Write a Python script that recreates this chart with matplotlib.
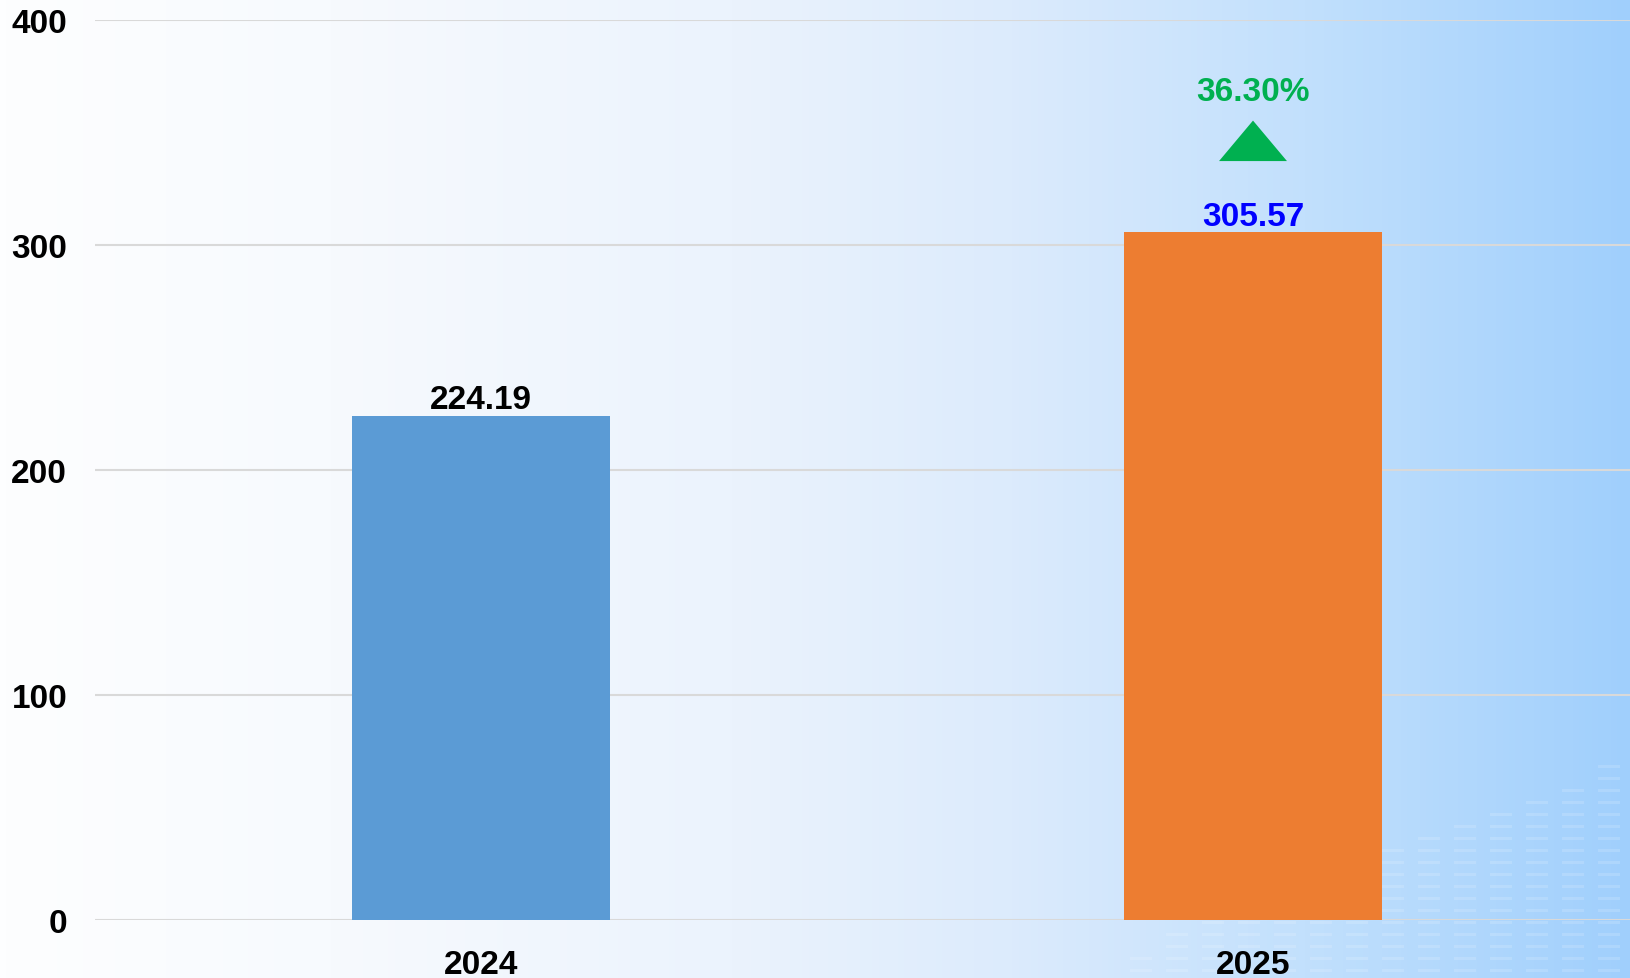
import numpy as np
import matplotlib
matplotlib.use("Agg")
import matplotlib.pyplot as plt
from matplotlib.colors import LinearSegmentedColormap
from matplotlib.patches import Rectangle

plt.rcParams['font.family'] = ['Liberation Sans', 'DejaVu Sans']
plt.rcParams['font.weight'] = 'bold'

categories = ["2024", "2025"]
values = [224.19, 305.57]
bar_colors = ["#5B9BD5", "#ED7D31"]
label_colors = ["#000000", "#0000FF"]
growth_label = "36.30%"
growth_color = "#00B050"
yticks = [0, 100, 200, 300, 400]

W, H = 1630, 979
fig = plt.figure(figsize=(W / 100, H / 100), dpi=100)

# background gradient
bg = fig.add_axes([0, 0, 1, 1], zorder=0)
bg.set_axis_off()
cmap = LinearSegmentedColormap.from_list(
    "bg",
    [(0.0, "#FDFEFF"), (0.2, "#F7FAFE"), (0.45, "#EBF3FD"),
     (0.62, "#DCEBFC"), (0.8, "#C2E0FD"), (1.0, "#A0CFFC")])
grad = np.linspace(0, 1, 512).reshape(1, -1)
bg.imshow(grad, aspect="auto", cmap=cmap, extent=[0, W, 0, H])
bg.set_xlim(0, W)
bg.set_ylim(0, H)

# faint decorative equalizer pattern (bottom right)
for i, cx in enumerate(range(1130, 1630, 36)):
    top = 30 + i * 14
    for yy in range(6, top, 12):
        bg.add_patch(Rectangle((cx, yy), 22, 3, color="white", alpha=0.15,
                               linewidth=0))

left = 95 / W
bottom = (H - 921) / H
height = 900 / H
width = 1544 / W
ax = fig.add_axes([left, bottom, width, height], zorder=1)
ax.patch.set_alpha(0)

x = np.arange(len(categories))
ax.bar(x, values, width=0.333, color=bar_colors, zorder=3)

ax.set_xlim(-0.5, 1.5)
ax.set_ylim(0, 400)
ax.set_yticks(yticks)
ax.set_xticks(x)
ax.set_xticklabels(categories)
ax.grid(axis="y", color="#D9D9D9", linewidth=1.5, zorder=0)
ax.set_axisbelow(True)
for s in ax.spines.values():
    s.set_visible(False)
ax.tick_params(axis="both", length=0, labelsize=24)
ax.tick_params(axis="y", pad=20)
ax.tick_params(axis="x", pad=21)
for lab in ax.get_xticklabels() + ax.get_yticklabels():
    lab.set_fontweight("bold")

for xi, v, c in zip(x, values, label_colors):
    ax.annotate(f"{v:.2f}", (xi, v), xytext=(0, 5.5), textcoords="offset points",
                ha="center", va="baseline", fontsize=24, fontweight="bold", color=c)

# growth marker on 2025 bar
xi = x[1]
ax.fill([xi - 0.044, xi + 0.044, xi], [337.3, 337.3, 355.3], color=growth_color,
        zorder=4, linewidth=0)
ax.text(xi, 364.5, growth_label, ha="center", va="baseline", fontsize=24,
        fontweight="bold", color=growth_color)

fig.savefig("out.png", dpi=100)
